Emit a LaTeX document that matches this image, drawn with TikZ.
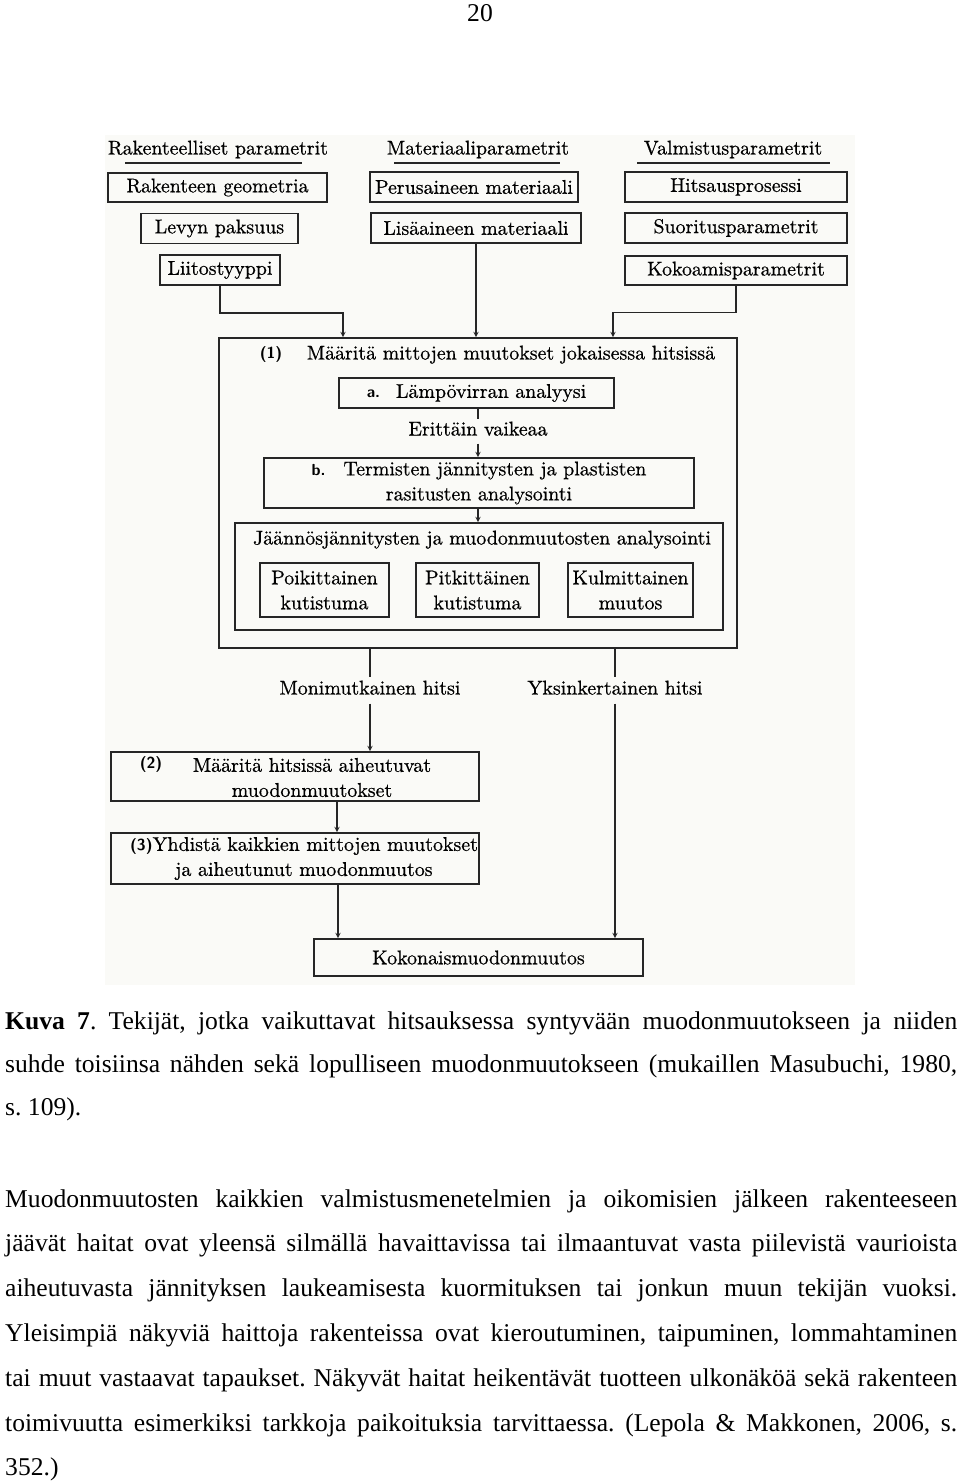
\documentclass[tikz,border=0pt]{standalone}
\usepackage{fontspec}
\usepackage{tikz}
\newfontfamily\bodyfont{Liberation Serif}
\newfontfamily\diagfont[FakeBold=0.6]{lmroman10-regular.otf}
\definecolor{scan}{RGB}{250,250,247}
\colorlet{ink}{black!85}
\newcommand{\diag}{\diagfont\fontsize{19.9}{25}\selectfont}
\newcommand{\lab}[1]{{\sffamily\bfseries\fontsize{16}{18}\selectfont #1}}

\begin{document}
\begin{tikzpicture}[x=1pt, y=-1pt,
  box/.style={draw=ink, line width=1.6pt, inner sep=0pt, font=\diag, align=center},
  txt/.style={font=\diag, inner sep=0pt, text height=14pt, text depth=5pt},
  arr/.style={->, >=stealth, draw=ink, line width=1.4pt},
  link/.style={draw=ink, line width=1.4pt},
  para/.style={inner sep=0pt, text width=952pt, align=justify}
]
\useasboundingbox (0,0) rectangle (960,1482);
\fill[scan] (105,135) rectangle (855,985);

% page number
\node[para, text width=, font=\bodyfont\fontsize{25.6}{30}\selectfont, anchor=base] (pnum) at (480,22) {20};

% parameter groups
\foreach \nm/\cx/\ul/\ur/\txt in {rak/218/125/302/Rakenteelliset parametrit,
    mat/478/394/560/Materiaaliparametrit, val/733/637/830/Valmistusparametrit} {
  \node[txt] (\nm) at (\cx,150) {\txt};
  \draw[link, line width=1.8pt] (\ul,163) -- (\ur,163);
}
\node[box, minimum width=219pt, minimum height=29pt] (geom) at (217.5,187.5) {Rakenteen geometria};
\node[box, minimum width=157pt, minimum height=30pt] (levy) at (219.5,228.5) {Levyn paksuus};
\node[box, minimum width=120pt, minimum height=30pt] (liitos) at (220,270) {Liitostyyppi};
\node[box, minimum width=208pt, minimum height=30pt] (perus) at (474,187) {Perusaineen materiaali};
\node[box, minimum width=210pt, minimum height=30pt] (lisa) at (476,228) {Lisäaineen materiaali};
\node[box, minimum width=222pt, minimum height=30pt] (hits) at (736,187) {Hitsausprosessi};
\node[box, minimum width=222pt, minimum height=30pt] (suor) at (736,228) {Suoritusparametrit};
\node[box, minimum width=222pt, minimum height=29pt] (koko) at (736,270.5) {Kokoamisparametrit};

% step (1)
\node[box, minimum width=518pt, minimum height=310pt] (box1) at (478,493) {};
\node[txt] (n1) at (271,354) {\lab{(1)}};
\node[txt] (t1) at (511,355) {Määritä mittojen muutokset jokaisessa hitsissä};
\node[box, minimum width=275pt, minimum height=30pt] (ana) at (476.5,393)
  {\lab{a.}\hspace{16pt}Lämpövirran analyysi};
\node[txt, outer sep=3pt] (vaik) at (478,431) {Erittäin vaikeaa};
\node[box, minimum width=430pt, minimum height=50pt] (term) at (479,483)
  {\lab{b.}\hspace{18pt}Termisten jännitysten ja plastisten\\ rasitusten analysointi};
\node[box, minimum width=488pt, minimum height=107pt] (jaan) at (479,576.5) {};
\node[txt] (tj) at (482,540) {Jäännösjännitysten ja muodonmuutosten analysointi};
\node[box, minimum width=129pt, minimum height=54pt] (poik) at (324.5,590) {Poikittainen\\ kutistuma};
\node[box, minimum width=123pt, minimum height=54pt] (pitk) at (477.5,590) {Pitkittäinen\\ kutistuma};
\node[box, minimum width=125pt, minimum height=54pt] (kulm) at (630.5,590) {Kulmittainen\\ muutos};

\draw[arr] (liitos.south) -- ++(0,27) -| ([xshift=-135pt]box1.north);
\draw[arr] (lisa.south) -- (lisa.south |- box1.north);
\draw[arr] (koko.south) -- ++(0,26.5) -| ([xshift=135pt]box1.north);
\draw[link] (ana.south -| vaik) -- (vaik.north);
\draw[arr] (vaik.south) -- (vaik.south |- term.north);
\draw[arr] (term.south -| vaik) -- (vaik |- jaan.north);

% weld types
\node[txt, outer sep=4pt] (mon) at (370,690) {Monimutkainen hitsi};
\node[txt, outer sep=4pt] (yks) at (615,690) {Yksinkertainen hitsi};

% steps (2) and (3)
\node[box, minimum width=368pt, minimum height=49pt] (box2) at (295,776.5) {};
\node[txt] (n2) at (151,764) {\lab{(2)}};
\node[font=\diag, align=center, inner sep=0pt] (t2) at (312,777.5) {Määritä hitsissä aiheutuvat\\ muodonmuutokset};
\node[box, minimum width=368pt, minimum height=51pt] (box3) at (295,858.5) {};
\node[font=\diag, align=center, inner sep=0pt] (t3) at (304,858.5)
  {\lab{(3)}Yhdistä kaikkien mittojen muutokset\\ ja aiheutunut muodonmuutos};
\node[box, minimum width=329pt, minimum height=37pt] (kok) at (478.5,957.5) {Kokonaismuodonmuutos};

\draw[link] (box1.south -| mon) -- (mon.north);
\draw[arr] (mon.south) -- (mon.south |- box2.north);
\draw[link] (box1.south -| yks) -- (yks.north);
\draw[arr] (yks.south) -- (yks.south |- kok.north);
\draw[arr] ([xshift=42pt]box2.south) -- ([xshift=42pt]box3.north);
\draw[arr] ([xshift=43pt]box3.south) -- ([xshift=43pt]box3.south |- kok.north);

% caption and text
\node[para, font=\bodyfont\fontsize{25.6}{43}\selectfont\frenchspacing, anchor=base west] (cap) at (5,1029)
  {\textbf{Kuva 7}. Tekijät, jotka vaikuttavat hitsauksessa syntyvään muodonmuutokseen ja niiden\linebreak
   suhde toisiinsa nähden sekä lopulliseen muodonmuutokseen (mukaillen Masubuchi, 1980,\linebreak
   s. 109).};
\node[para, font=\bodyfont\fontsize{25.6}{44.8}\selectfont\frenchspacing, anchor=base west] (body) at (5,1207)
  {Muodonmuutosten kaikkien valmistusmenetelmien ja oikomisien jälkeen rakenteeseen\linebreak
   jäävät haitat ovat yleensä silmällä havaittavissa tai ilmaantuvat vasta piilevistä vaurioista\linebreak
   aiheutuvasta jännityksen laukeamisesta kuormituksen tai jonkun muun tekijän vuoksi.\linebreak
   Yleisimpiä näkyviä haittoja rakenteissa ovat kieroutuminen, taipuminen, lommahtaminen\linebreak
   tai muut vastaavat tapaukset. Näkyvät haitat heikentävät tuotteen ulkonäköä sekä rakenteen\linebreak
   toimivuutta esimerkiksi tarkkoja paikoituksia tarvittaessa. (Lepola \& Makkonen, 2006, s.\linebreak
   352.)};
\end{tikzpicture}
\end{document}
